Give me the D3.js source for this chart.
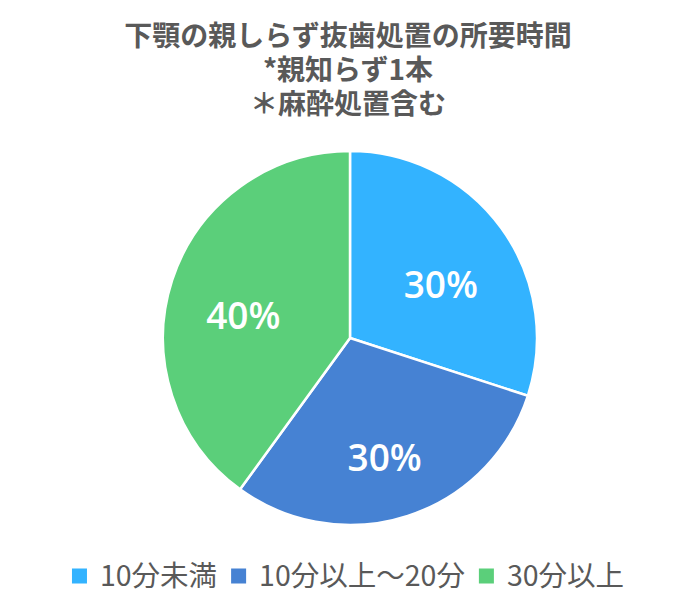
<!DOCTYPE html>
<html lang="ja">
<head>
  <meta charset="UTF-8" />
  <title>d3</title>
  <script src="https://cdn.jsdelivr.net/npm/d3@7/dist/d3.min.js"></script>
  <style>
    body { margin: 0; background: #fff; }
  </style>
</head>
<body>
  <svg id="svg"></svg>
</body>
<script>
  const titleLines = ["下顎の親しらず抜歯処置の所要時間", "*親知らず1本", "＊麻酔処置含む"];
  const categories = ["10分未満", "10分以上～20分", "30分以上"];
  const values = [30, 30, 40];
  const colors = ["#33b3ff", "#4682d3", "#5bcf7a"];

  const width = 696;
  const height = 615;
  const cx = 350, cy = 338, radius = 187;

  const svg = d3.select("#svg").attr("width", width).attr("height", height);

  // title, one text block with a tspan per line
  const title = svg.append("text")
    .attr("x", width / 2)
    .attr("y", 46)
    .attr("text-anchor", "middle")
    .attr("font-family", "'Noto Sans CJK JP', sans-serif")
    .attr("font-weight", "bold")
    .attr("font-size", 28)
    .attr("fill", "#595959");
  title.selectAll("tspan")
    .data(titleLines)
    .join("tspan")
    .attr("x", width / 2)
    .attr("dy", (d, i) => i === 0 ? 0 : 34)
    .text(d => d);

  // pie
  const data = categories.map((c, i) => ({ name: c, value: values[i], color: colors[i] }));
  const pie = d3.pie().value(d => d.value).sort(null);
  const arc = d3.arc().innerRadius(0).outerRadius(radius);
  const labelArc = d3.arc().innerRadius(radius * 0.6).outerRadius(radius * 0.6);
  const arcs = pie(data);

  const g = svg.append("g").attr("transform", `translate(${cx}, ${cy})`);

  g.selectAll("path")
    .data(arcs)
    .join("path")
    .attr("d", arc)
    .attr("fill", d => d.data.color)
    .attr("stroke", "#fff")
    .attr("stroke-width", 2.5);

  const total = d3.sum(values);
  g.selectAll("text")
    .data(arcs)
    .join("text")
    .attr("transform", d => `translate(${labelArc.centroid(d)})`)
    .attr("text-anchor", "middle")
    .attr("dy", 26)
    .attr("font-family", "'Open Sans', sans-serif")
    .attr("font-weight", 600)
    .attr("font-size", 37)
    .attr("fill", "#fff")
    .text(d => Math.round(d.data.value / total * 100) + "%");

  // legend
  const legend = svg.append("g");
  const box = 15, gap = 13, itemGap = 14;
  const items = legend.selectAll("g")
    .data(data)
    .join("g");
  items.append("rect")
    .attr("width", box)
    .attr("height", box)
    .attr("y", -box / 2)
    .attr("fill", d => d.color);
  items.append("text")
    .attr("x", box + gap)
    .attr("dy", "0.36em")
    .attr("font-family", "'Noto Sans CJK JP', sans-serif")
    .attr("font-size", 28.5)
    .attr("fill", "#595959")
    .text(d => d.name);

  const widths = [];
  items.each(function () {
    widths.push(this.getBBox().width);
  });
  const totalW = d3.sum(widths) + itemGap * (widths.length - 1);
  let x0 = (width - totalW) / 2;
  items.attr("transform", (d, i) => {
    const t = `translate(${x0}, 576)`;
    x0 += widths[i] + itemGap;
    return t;
  });
</script>
</html>
